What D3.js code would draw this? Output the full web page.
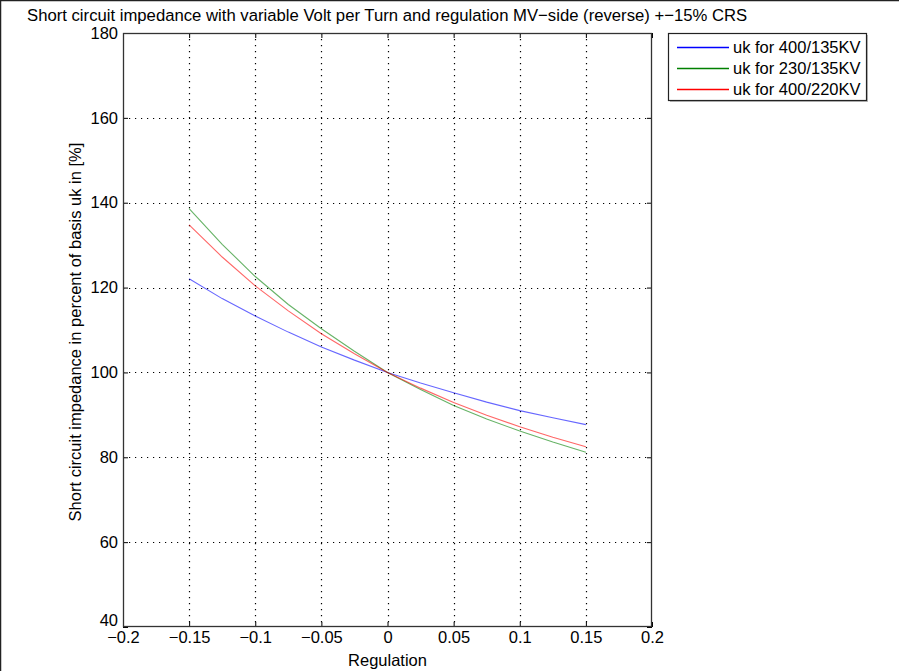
<!DOCTYPE html>
<html>
<head>
<meta charset="utf-8">
<script src="https://cdn.jsdelivr.net/npm/d3@7"></script>
<style>
  html, body { margin: 0; padding: 0; background: #fff; }
  svg { display: block; font-family: "Liberation Sans", Arial, sans-serif; }
</style>
</head>
<body>
<svg id="chart" width="899" height="671"></svg>
<script>
// Regulation steps (per unit)
const regulation = [-0.15, -0.125, -0.1, -0.075, -0.05, -0.025, 0, 0.025, 0.05, 0.075, 0.1, 0.125, 0.15];
// Short circuit impedance in percent of basis uk
const uk400_135 = [122.1, 117.4, 113.3, 109.5, 106.0, 102.9, 100, 97.5, 95.2, 93.0, 91.0, 89.3, 87.7];
const uk230_135 = [138.6, 130.2, 122.6, 116.0, 110.3, 105.0, 100, 96.0, 92.2, 89.0, 86.2, 83.6, 81.2];
const uk400_220 = [134.8, 127.2, 120.4, 114.5, 109.1, 104.4, 100, 96.3, 92.9, 89.9, 87.2, 84.7, 82.5];
const seriesNames = ["uk for 400/135KV", "uk for 230/135KV", "uk for 400/220KV"];
const seriesColors = ["#0000ff", "#008000", "#ff0000"];
const xTicks = [-0.2, -0.15, -0.1, -0.05, 0, 0.05, 0.1, 0.15, 0.2];
const yTicks = [40, 60, 80, 100, 120, 140, 160, 180];

const series = [uk400_135, uk230_135, uk400_220];

const svg = d3.select("#chart");
const W = 899, H = 671;
const m = { left: 123, top: 33, right: 652, bottom: 627 };
const FS = "16.5px";

// frame of the figure window
svg.append("line").attr("x1", 0).attr("x2", W).attr("y1", 0.5).attr("y2", 0.5)
  .attr("stroke", "#222").attr("stroke-width", 1.5);
svg.append("line").attr("x1", 0.5).attr("x2", 0.5).attr("y1", 0).attr("y2", H)
  .attr("stroke", "#222").attr("stroke-width", 1.5);

const x = d3.scaleLinear().domain([-0.2, 0.2]).range([m.left, m.right]);
const y = d3.scaleLinear().domain([40, 180]).range([m.bottom, m.top]);

const fmt = d => (d < 0 ? "\u2212" : "") + String(Math.abs(d));

// dotted grid
const grid = svg.append("g").attr("stroke", "#000").attr("stroke-width", 1.2)
  .attr("stroke-dasharray", "1.2,4.8");
grid.selectAll(".gx").data(xTicks.slice(1, -1)).join("line")
  .attr("x1", d => Math.round(x(d)) + 0.5).attr("x2", d => Math.round(x(d)) + 0.5)
  .attr("y1", m.top).attr("y2", m.bottom);
grid.selectAll(".gy").data(yTicks.slice(1, -1)).join("line")
  .attr("y1", d => Math.round(y(d)) + 0.5).attr("y2", d => Math.round(y(d)) + 0.5)
  .attr("x1", m.left).attr("x2", m.right);

// data lines
const line = d3.line().x((d, i) => x(regulation[i])).y(d => y(d));
series.forEach((s, k) => {
  svg.append("path")
    .attr("d", line(s))
    .attr("fill", "none")
    .attr("stroke", seriesColors[k])
    .attr("stroke-opacity", 0.6)
    .attr("stroke-width", 1.1);
});

// axes with inward ticks on all four sides
const tickLen = 5;
const bottomAxis = d3.axisBottom(x).tickValues(xTicks).tickFormat(fmt).tickSizeInner(-tickLen).tickSizeOuter(0).tickPadding(4);
const topAxis = d3.axisTop(x).tickValues(xTicks).tickFormat("").tickSizeInner(-tickLen).tickSizeOuter(0);
const leftAxis = d3.axisLeft(y).tickValues(yTicks).tickFormat(d3.format("d")).tickSizeInner(-tickLen).tickSizeOuter(0).tickPadding(5);
const rightAxis = d3.axisRight(y).tickValues(yTicks).tickFormat("").tickSizeInner(-tickLen).tickSizeOuter(0);

function styleAxis(g) {
  g.select(".domain").remove();
  g.selectAll("line").attr("stroke", "#000");
  g.selectAll("text").attr("fill", "#000").attr("font-size", FS)
    .attr("font-family", "'Liberation Sans', Arial, sans-serif");
}
svg.append("g").attr("transform", `translate(0,${m.bottom})`).call(bottomAxis).call(styleAxis);
svg.append("g").attr("transform", `translate(0,${m.top})`).call(topAxis).call(styleAxis);
const yAxisG = svg.append("g").attr("transform", `translate(${m.left},0)`).call(leftAxis).call(styleAxis);
svg.append("g").attr("transform", `translate(${m.right},0)`).call(rightAxis).call(styleAxis);

// lowest y label sits slightly higher so it clears the x labels
yAxisG.selectAll("text").filter(d => d === 40).attr("dy", "-0.08em");

// plot box
svg.append("rect").attr("x", m.left + 0.5).attr("y", m.top + 0.5)
  .attr("width", m.right - m.left - 1).attr("height", m.bottom - m.top - 1)
  .attr("fill", "none").attr("stroke", "#333").attr("stroke-width", 1.3);

// title and axis labels
svg.append("text").attr("x", 27).attr("y", 21)
  .attr("font-size", "16.7px").attr("fill", "#000")
  .text("Short circuit impedance with variable Volt per Turn and regulation MV\u2212side (reverse) +\u221215% CRS");
svg.append("text").attr("x", (m.left + m.right) / 2).attr("y", 666)
  .attr("text-anchor", "middle").attr("font-size", FS).attr("fill", "#000")
  .text("Regulation");
svg.append("text")
  .attr("transform", `translate(81,${(m.top + m.bottom) / 2 + 2}) rotate(-90)`)
  .attr("text-anchor", "middle").attr("font-size", FS).attr("fill", "#000")
  .text("Short circuit impedance in percent of basis uk in [%]");

// legend
const lg = svg.append("g");
lg.append("rect").attr("x", 670).attr("y", 35).attr("width", 198).attr("height", 67)
  .attr("fill", "#bbb");
lg.append("rect").attr("x", 668.5).attr("y", 33.5).attr("width", 198).attr("height", 67)
  .attr("fill", "#fff").attr("stroke", "#222").attr("stroke-width", 1.2);
seriesNames.forEach((name, k) => {
  const yy = 47 + k * 21;
  lg.append("line").attr("x1", 677).attr("x2", 729).attr("y1", yy + 0.5).attr("y2", yy + 0.5)
    .attr("stroke", seriesColors[k]).attr("stroke-width", 1.3);
  lg.append("text").attr("x", 733).attr("y", yy + 6)
    .attr("font-size", FS).attr("fill", "#000").text(name);
});
</script>
</body>
</html>
